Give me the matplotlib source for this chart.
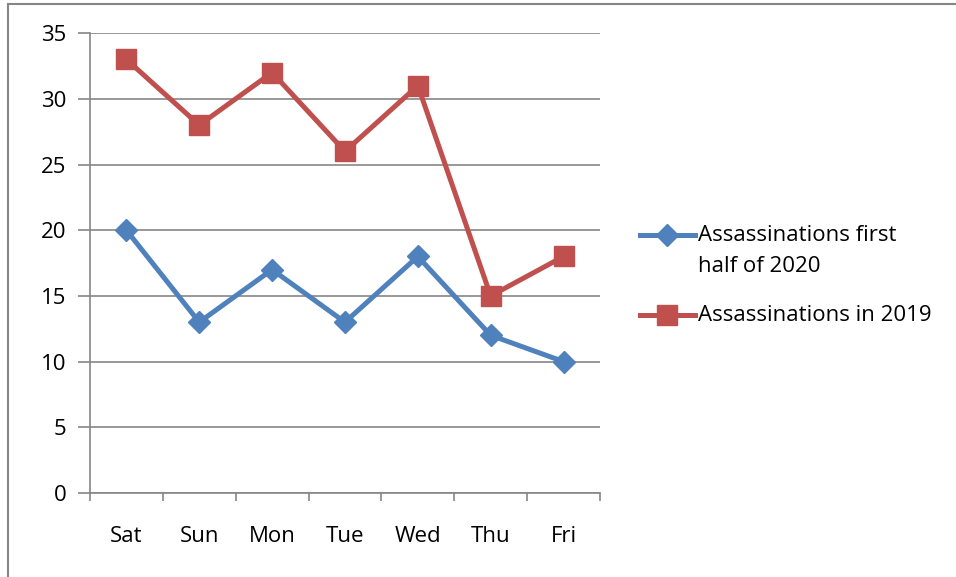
import numpy as np
import matplotlib.pyplot as plt
from matplotlib.patches import Rectangle
from matplotlib.lines import Line2D

days = ['Sat', 'Sun', 'Mon', 'Tue', 'Wed', 'Thu', 'Fri']
first_half_2020 = [20, 13, 17, 13, 18, 12, 10]
year_2019 = [33, 28, 32, 26, 31, 15, 18]
yticks = [0, 5, 10, 15, 20, 25, 30, 35]

plt.rcParams['font.family'] = ['Open Sans', 'DejaVu Sans']
grey = '#868686'
blue = '#4F81BD'
red = '#C0504D'

fig = plt.figure(figsize=(9.56, 5.77), dpi=100)
ax = fig.add_axes([0.0941, 0.1456, 0.5335, 0.797])

x = np.arange(len(days))
ax.plot(x, first_half_2020, color=blue, lw=3.6, marker='D', ms=11.5, zorder=3)
ax.plot(x, year_2019, color=red, lw=3.6, marker='s', ms=14, zorder=3)

ax.set_xlim(-0.5, len(days) - 0.5)
ax.set_ylim(0, 35)
ax.set_yticks(yticks)
ax.yaxis.grid(True, color=grey, lw=1.2)
ax.set_axisbelow(True)

ax.set_xticks(x)
ax.set_xticklabels(days)
ax.set_xticks(np.arange(-0.5, len(days)), minor=True)
ax.tick_params(axis='x', which='major', length=0, pad=24, labelsize=16)
ax.tick_params(axis='x', which='minor', length=6, width=1.2, color=grey)
ax.tick_params(axis='y', length=9, width=1.2, color=grey, pad=8, labelsize=16)

for s in ['top', 'right']:
    ax.spines[s].set_visible(False)
for s in ['left', 'bottom']:
    ax.spines[s].set_color(grey)
    ax.spines[s].set_linewidth(1.2)

# legend drawn by hand so the handle lines up with the first text line
legend_items = [('Assassinations first\nhalf of 2020', blue, 'D', 11.5, 235),
                ('Assassinations in 2019', red, 's', 14, 315)]
for label, col, mk, ms, ypx in legend_items:
    yf = 1 - ypx / 577
    fig.add_artist(Line2D([640 / 956, 695 / 956], [yf, yf], color=col, lw=3.6,
                          transform=fig.transFigure))
    fig.add_artist(Line2D([667 / 956], [yf], color=col, marker=mk, ms=ms,
                          transform=fig.transFigure))
    fig.text(698 / 956, yf + 10 / 577, label, fontsize=16, va='top', ha='left',
             linespacing=1.6, transform=fig.transFigure)

fig.patches.append(Rectangle((8 / 956, -0.1), 1.2, 1 - 4 / 577 + 0.1,
                             transform=fig.transFigure, fill=False,
                             edgecolor=grey, lw=1.5))

fig.savefig('out.png', dpi=100)
